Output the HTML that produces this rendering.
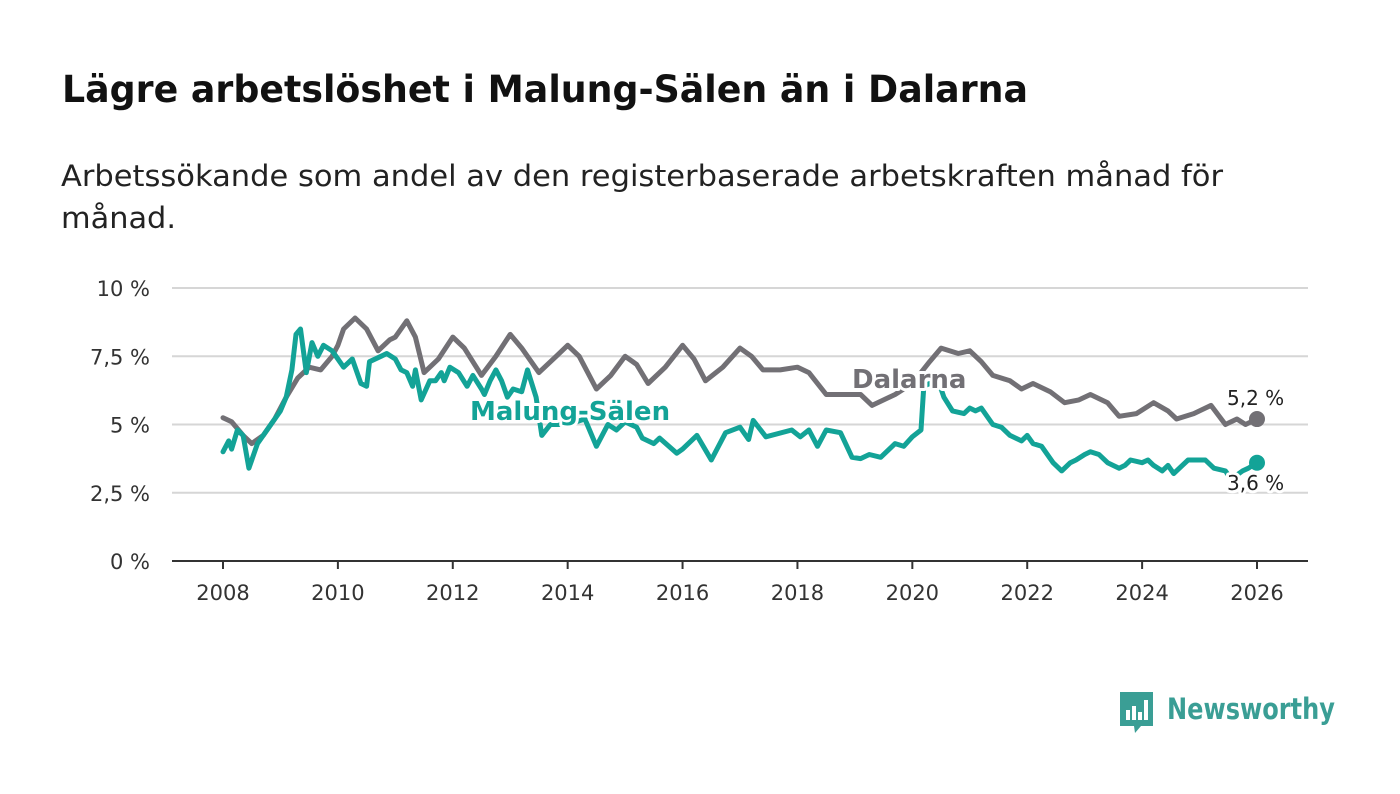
<!DOCTYPE html>
<html><head><meta charset="utf-8"><style>
html,body{margin:0;padding:0;background:#fff;}
svg{display:block;font-family:"DejaVu Sans","Liberation Sans",sans-serif;}
</style></head><body>
<svg id="chart" width="1400" height="794" viewBox="0 0 1400 794" xmlns="http://www.w3.org/2000/svg">
<text x="62" y="102" font-size="37" font-weight="bold" fill="#111" textLength="966" lengthAdjust="spacingAndGlyphs">Lägre arbetslöshet i Malung-Sälen än i Dalarna</text>
<text x="61" y="186" font-size="29" fill="#222" textLength="1162" lengthAdjust="spacingAndGlyphs">Arbetssökande som andel av den registerbaserade arbetskraften månad för</text>
<text x="61" y="228" font-size="29" fill="#222" textLength="115" lengthAdjust="spacingAndGlyphs">månad.</text>
<g id="grid"></g><g id="axes"></g><g id="series"></g><g id="labels"></g>
<g>
<path d="M1120 692 h33 v34 h-12 l-6 7 l-1 -7 h-14 z" fill="#3a9e95"/>
<rect x="1126" y="710" width="4" height="10" fill="#fff"/><rect x="1132" y="706" width="4" height="14" fill="#fff"/><rect x="1138" y="712" width="4" height="8" fill="#fff"/><rect x="1144" y="700" width="4" height="20" fill="#fff"/>
<text x="1167" y="719" font-size="29" font-weight="bold" fill="#3a9e95" textLength="168" lengthAdjust="spacingAndGlyphs">Newsworthy</text>
</g>
</svg>
<script>
const yTickValues=[0,2.5,5,7.5,10];
const yTickLabels=["0 %","2,5 %","5 %","7,5 %","10 %"];
const xTickValues=[2008,2010,2012,2014,2016,2018,2020,2022,2024,2026];
const dalarnaDates=[2008.0,2008.15,2008.35,2008.5,2008.7,2008.9,2009.1,2009.3,2009.5,2009.7,2009.9,2010.0,2010.1,2010.3,2010.5,2010.7,2010.9,2011.0,2011.2,2011.35,2011.5,2011.75,2012.0,2012.2,2012.5,2012.75,2013.0,2013.2,2013.5,2013.8,2014.0,2014.2,2014.5,2014.75,2015.0,2015.2,2015.4,2015.7,2016.0,2016.2,2016.4,2016.7,2017.0,2017.2,2017.4,2017.7,2018.0,2018.2,2018.5,2018.8,2019.1,2019.3,2019.7,2020.0,2020.3,2020.5,2020.8,2021.0,2021.2,2021.4,2021.7,2021.9,2022.1,2022.4,2022.65,2022.9,2023.1,2023.4,2023.6,2023.9,2024.2,2024.45,2024.6,2024.9,2025.2,2025.45,2025.65,2025.8,2026.0];
const dalarnaValues=[5.25,5.1,4.6,4.3,4.6,5.2,6.0,6.7,7.1,7.0,7.5,7.9,8.5,8.9,8.5,7.7,8.1,8.2,8.8,8.2,6.9,7.4,8.2,7.8,6.8,7.5,8.3,7.8,6.9,7.5,7.9,7.5,6.3,6.8,7.5,7.2,6.5,7.1,7.9,7.4,6.6,7.1,7.8,7.5,7.0,7.0,7.1,6.9,6.1,6.1,6.1,5.7,6.1,6.5,7.3,7.8,7.6,7.7,7.3,6.8,6.6,6.3,6.5,6.2,5.8,5.9,6.1,5.8,5.3,5.4,5.8,5.5,5.2,5.4,5.7,5.0,5.2,5.0,5.2];
const malungDates=[2008.0,2008.1,2008.15,2008.25,2008.35,2008.45,2008.6,2008.8,2009.0,2009.1,2009.2,2009.27,2009.35,2009.45,2009.55,2009.65,2009.75,2009.9,2010.0,2010.1,2010.25,2010.4,2010.5,2010.55,2010.75,2010.85,2011.0,2011.1,2011.2,2011.3,2011.35,2011.45,2011.6,2011.7,2011.8,2011.85,2011.95,2012.1,2012.25,2012.35,2012.5,2012.55,2012.65,2012.75,2012.85,2012.95,2013.05,2013.2,2013.3,2013.45,2013.55,2013.7,2014.0,2014.3,2014.5,2014.7,2014.85,2015.0,2015.2,2015.3,2015.5,2015.6,2015.9,2016.0,2016.25,2016.5,2016.75,2017.0,2017.15,2017.23,2017.45,2017.9,2018.05,2018.2,2018.35,2018.5,2018.75,2018.95,2019.1,2019.25,2019.45,2019.7,2019.85,2020.0,2020.15,2020.2,2020.3,2020.5,2020.55,2020.7,2020.9,2021.0,2021.1,2021.2,2021.4,2021.55,2021.7,2021.9,2022.0,2022.1,2022.25,2022.45,2022.6,2022.75,2022.85,2023.0,2023.1,2023.25,2023.4,2023.6,2023.7,2023.8,2024.0,2024.1,2024.2,2024.35,2024.45,2024.55,2024.7,2024.8,2025.1,2025.25,2025.45,2025.55,2025.75,2025.85,2026.0];
const malungValues=[4.0,4.4,4.1,4.8,4.6,3.4,4.3,4.9,5.5,6.0,7.0,8.3,8.5,6.9,8.0,7.5,7.9,7.7,7.4,7.1,7.4,6.5,6.4,7.3,7.5,7.6,7.4,7.0,6.9,6.4,7.0,5.9,6.6,6.6,6.9,6.6,7.1,6.9,6.4,6.8,6.3,6.1,6.6,7.0,6.6,6.0,6.3,6.2,7.0,6.0,4.6,5.0,5.0,5.2,4.2,5.0,4.8,5.1,4.9,4.5,4.3,4.5,3.95,4.1,4.6,3.7,4.7,4.9,4.45,5.15,4.55,4.8,4.55,4.8,4.2,4.8,4.7,3.8,3.75,3.9,3.8,4.3,4.2,4.55,4.8,6.4,6.5,6.3,6.0,5.5,5.4,5.6,5.5,5.6,5.0,4.9,4.6,4.4,4.6,4.3,4.2,3.6,3.3,3.6,3.7,3.9,4.0,3.9,3.6,3.4,3.5,3.7,3.6,3.7,3.5,3.3,3.5,3.2,3.5,3.7,3.7,3.4,3.3,3.0,3.3,3.4,3.6];

const NS="http://www.w3.org/2000/svg";
const X0=172,X1=1308,Y0=561,Y10=288;
const xs=y=>223+(y-2008)*(1257-223)/18;
const ys=v=>Y0-(v/10)*(Y0-Y10);
function mk(tag,attrs,parent){const e=document.createElementNS(NS,tag);for(const k in attrs)e.setAttribute(k,attrs[k]);parent.appendChild(e);return e;}
const grid=document.getElementById('grid'),axes=document.getElementById('axes'),series=document.getElementById('series'),labels=document.getElementById('labels');
yTickValues.forEach((v,i)=>{
 if(v>0){const l=mk('line',{x1:X0,x2:X1,y1:ys(v),y2:ys(v),stroke:'#d6d6d6','stroke-width':2},grid);
 
 }
 const t=mk('text',{x:150,y:ys(v)+8,'text-anchor':'end','font-size':21,fill:'#333'},axes);
 t.textContent=yTickLabels[i];
 
 
});
const ax=mk('line',{x1:X0,x2:X1,y1:Y0,y2:Y0,stroke:'#333','stroke-width':2},axes);


xTickValues.forEach(v=>{
 const tk=mk('line',{x1:xs(v),x2:xs(v),y1:Y0,y2:Y0+8,stroke:'#333','stroke-width':2},axes);
 
 
 const t=mk('text',{x:xs(v),y:600,'text-anchor':'middle','font-size':21,fill:'#333'},axes);
 t.textContent=String(v);
 
 
});
function line(dates,vals,color,name){
 const d=dates.map((x,i)=>(i?'L':'M')+xs(x).toFixed(1)+' '+ys(vals[i]).toFixed(1)).join(' ');
 const p=mk('path',{d:d,fill:'none',stroke:color,'stroke-width':5,'stroke-linejoin':'round','stroke-linecap':'round'},series);
 
 
 const n=dates.length-1;
 const c=mk('circle',{cx:xs(dates[n]),cy:ys(vals[n]),r:8,fill:color},series);
 
 
}
line(dalarnaDates,dalarnaValues,'#727075','dalarna-line');
line(malungDates,malungValues,'#13a397','malung-salen-line');
function lab(txt,x,y,size,weight,color,name){
 const t=mk('text',{x:x,y:y,'font-size':size,'font-weight':weight,fill:color,stroke:'#fff','stroke-width':6,'paint-order':'stroke','stroke-linejoin':'round'},labels);
 t.textContent=txt;
 
 
}
lab('Dalarna',852,388,26,'bold','#727075','dalarna-label');
lab('Malung-Sälen',470,420,26,'bold','#13a397','malung-salen-label');
lab('5,2 %',1227,405,20,'normal','#222','dalarna-end-value');
lab('3,6 %',1227,490,20,'normal','#222','malung-salen-end-value');
</script>
</body></html>
